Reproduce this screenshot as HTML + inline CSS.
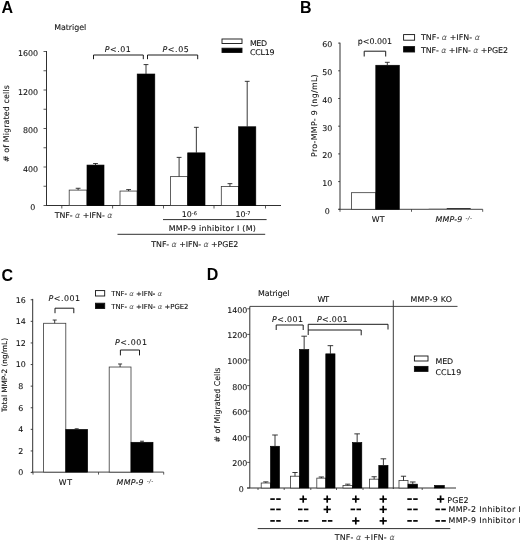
<!DOCTYPE html>
<html><head><meta charset="utf-8"><title>Figure</title>
<style>
html,body{margin:0;padding:0;background:#fff;}
svg{display:block;will-change:transform;opacity:0.999;}
text{font-family:"DejaVu Sans","Liberation Sans",sans-serif;font-size:7.9px;fill:#111;stroke:#111;stroke-width:0.1px;}
.pl{font-family:"Liberation Sans",sans-serif;font-size:16px;font-weight:bold;fill:#000;stroke:none;}
.it{font-style:italic;}
.al{font-style:italic;fill:#555;stroke:none;}
.sup{font-style:italic;font-size:5.6px;fill:#333;stroke:none;}
.br{fill:none;stroke:#1a1a1a;stroke-width:1;}
</style>
</head><body>
<svg width="520" height="543" viewBox="0 0 520 543">
<rect x="0" y="0" width="520" height="543" fill="#ffffff" stroke="none"/>
<text x="1.5" y="12.6" class="pl">A</text>
<text x="54.2" y="30.3" textLength="32" lengthAdjust="spacing">Matrigel</text>
<line x1="46.50" y1="51.00" x2="46.50" y2="205.50" stroke="#303030" stroke-width="1.0"/>
<line x1="46.00" y1="205.50" x2="281.00" y2="205.50" stroke="#303030" stroke-width="1.0"/>
<line x1="43.50" y1="205.50" x2="46.50" y2="205.50" stroke="#303030" stroke-width="0.8"/>
<line x1="43.50" y1="186.25" x2="46.50" y2="186.25" stroke="#303030" stroke-width="0.8"/>
<line x1="43.50" y1="167.00" x2="46.50" y2="167.00" stroke="#303030" stroke-width="0.8"/>
<line x1="43.50" y1="147.75" x2="46.50" y2="147.75" stroke="#303030" stroke-width="0.8"/>
<line x1="43.50" y1="128.50" x2="46.50" y2="128.50" stroke="#303030" stroke-width="0.8"/>
<line x1="43.50" y1="109.25" x2="46.50" y2="109.25" stroke="#303030" stroke-width="0.8"/>
<line x1="43.50" y1="90.00" x2="46.50" y2="90.00" stroke="#303030" stroke-width="0.8"/>
<line x1="43.50" y1="70.75" x2="46.50" y2="70.75" stroke="#303030" stroke-width="0.8"/>
<line x1="43.50" y1="51.50" x2="46.50" y2="51.50" stroke="#303030" stroke-width="0.8"/>
<text x="38" y="171.6" text-anchor="end">400</text>
<text x="38" y="133.1" text-anchor="end">800</text>
<text x="38" y="94.6" text-anchor="end">1200</text>
<text x="38" y="56.1" text-anchor="end">1600</text>
<text x="35.4" y="209.9" text-anchor="end">0</text>
<line x1="61.80" y1="205.50" x2="61.80" y2="208.50" stroke="#303030" stroke-width="0.8"/>
<line x1="112.60" y1="205.50" x2="112.60" y2="208.50" stroke="#303030" stroke-width="0.8"/>
<line x1="163.50" y1="205.50" x2="163.50" y2="208.50" stroke="#303030" stroke-width="0.8"/>
<line x1="214.00" y1="205.50" x2="214.00" y2="208.50" stroke="#303030" stroke-width="0.8"/>
<line x1="265.50" y1="205.50" x2="265.50" y2="208.50" stroke="#303030" stroke-width="0.8"/>
<text x="8.8" y="162" transform="rotate(-90 8.8 162)" textLength="76.8" lengthAdjust="spacing"># of  Migrated cells</text>
<rect x="69.20" y="190.10" width="17.80" height="15.40" fill="#fff" stroke="#3a3a3a" stroke-width="0.8"/>
<rect x="87.00" y="165.07" width="17.00" height="40.43" fill="#000" stroke="#000" stroke-width="0.65"/>
<line x1="78.10" y1="190.10" x2="78.10" y2="188.27" stroke="#222" stroke-width="0.9"/>
<line x1="75.70" y1="188.27" x2="80.50" y2="188.27" stroke="#222" stroke-width="0.9"/>
<line x1="95.50" y1="165.07" x2="95.50" y2="163.53" stroke="#222" stroke-width="0.9"/>
<line x1="93.10" y1="163.53" x2="97.90" y2="163.53" stroke="#222" stroke-width="0.9"/>
<rect x="120.00" y="191.06" width="17.20" height="14.44" fill="#fff" stroke="#3a3a3a" stroke-width="0.8"/>
<rect x="137.20" y="74.02" width="17.60" height="131.48" fill="#000" stroke="#000" stroke-width="0.65"/>
<line x1="128.60" y1="191.06" x2="128.60" y2="189.62" stroke="#222" stroke-width="0.9"/>
<line x1="126.20" y1="189.62" x2="131.00" y2="189.62" stroke="#222" stroke-width="0.9"/>
<line x1="146.00" y1="74.02" x2="146.00" y2="64.59" stroke="#222" stroke-width="0.9"/>
<line x1="143.60" y1="64.59" x2="148.40" y2="64.59" stroke="#222" stroke-width="0.9"/>
<rect x="170.50" y="176.62" width="17.20" height="28.88" fill="#fff" stroke="#3a3a3a" stroke-width="0.8"/>
<rect x="187.70" y="152.85" width="17.30" height="52.65" fill="#000" stroke="#000" stroke-width="0.65"/>
<line x1="179.10" y1="176.62" x2="179.10" y2="157.38" stroke="#222" stroke-width="0.9"/>
<line x1="176.70" y1="157.38" x2="181.50" y2="157.38" stroke="#222" stroke-width="0.9"/>
<line x1="196.35" y1="152.85" x2="196.35" y2="127.34" stroke="#222" stroke-width="0.9"/>
<line x1="193.95" y1="127.34" x2="198.75" y2="127.34" stroke="#222" stroke-width="0.9"/>
<rect x="221.30" y="186.54" width="17.30" height="18.96" fill="#fff" stroke="#3a3a3a" stroke-width="0.8"/>
<rect x="238.60" y="126.77" width="17.20" height="78.73" fill="#000" stroke="#000" stroke-width="0.65"/>
<line x1="229.95" y1="186.54" x2="229.95" y2="183.65" stroke="#222" stroke-width="0.9"/>
<line x1="227.55" y1="183.65" x2="232.35" y2="183.65" stroke="#222" stroke-width="0.9"/>
<line x1="247.20" y1="126.77" x2="247.20" y2="81.34" stroke="#222" stroke-width="0.9"/>
<line x1="244.80" y1="81.34" x2="249.60" y2="81.34" stroke="#222" stroke-width="0.9"/>
<path d="M93.5 59.2 L93.5 55 L143.3 55 L143.3 59.2" class="br"/>
<path d="M147.5 59.2 L147.5 55 L197.7 55 L197.7 59.2" class="br"/>
<text x="104.8" y="52" textLength="26" lengthAdjust="spacing"><tspan class="it">P</tspan>&lt;.01</text>
<text x="162.5" y="52" textLength="26.3" lengthAdjust="spacing"><tspan class="it">P</tspan>&lt;.05</text>
<rect x="222.00" y="39.00" width="20.00" height="4.50" fill="#fff" stroke="#111" stroke-width="0.9"/>
<rect x="222.00" y="48.20" width="20.00" height="4.30" fill="#000" stroke="#111" stroke-width="0.9"/>
<text x="250" y="46" textLength="17" lengthAdjust="spacing">MED</text>
<text x="250" y="55" textLength="24.6" lengthAdjust="spacing">CCL19</text>
<text x="54.7" y="218" textLength="57.7" lengthAdjust="spacing">TNF- <tspan class="al">α</tspan> +IFN- <tspan class="al">α</tspan></text>
<text x="181.8" y="217">10<tspan style="font-size:5px" dy="-2.5">-6</tspan></text>
<text x="235.4" y="217">10<tspan style="font-size:5px" dy="-2.5">-7</tspan></text>
<line x1="163.00" y1="219.60" x2="266.60" y2="219.60" stroke="#303030" stroke-width="1.0"/>
<text x="168.8" y="231" textLength="87" lengthAdjust="spacing">MMP-9 inhibitor I (M)</text>
<line x1="117.50" y1="234.30" x2="265.20" y2="234.30" stroke="#303030" stroke-width="1.0"/>
<text x="151.3" y="247" textLength="87" lengthAdjust="spacing">TNF- <tspan class="al">α</tspan> +IFN- <tspan class="al">α</tspan> +PGE2</text>
<text x="300" y="13.4" class="pl">B</text>
<line x1="340.00" y1="42.70" x2="340.00" y2="209.30" stroke="#303030" stroke-width="1.0"/>
<line x1="338.50" y1="209.30" x2="482.70" y2="209.30" stroke="#303030" stroke-width="0.9"/>
<line x1="338.20" y1="209.30" x2="340.00" y2="209.30" stroke="#303030" stroke-width="0.9"/>
<line x1="338.20" y1="181.60" x2="340.00" y2="181.60" stroke="#303030" stroke-width="0.9"/>
<line x1="338.20" y1="153.90" x2="340.00" y2="153.90" stroke="#303030" stroke-width="0.9"/>
<line x1="338.20" y1="126.20" x2="340.00" y2="126.20" stroke="#303030" stroke-width="0.9"/>
<line x1="338.20" y1="98.50" x2="340.00" y2="98.50" stroke="#303030" stroke-width="0.9"/>
<line x1="338.20" y1="70.80" x2="340.00" y2="70.80" stroke="#303030" stroke-width="0.9"/>
<line x1="338.20" y1="43.10" x2="340.00" y2="43.10" stroke="#303030" stroke-width="0.9"/>
<text x="327.3" y="213.6" text-anchor="middle">0</text>
<text x="327.3" y="185.9" text-anchor="middle">10</text>
<text x="327.3" y="158.2" text-anchor="middle">20</text>
<text x="327.3" y="130.5" text-anchor="middle">30</text>
<text x="327.3" y="102.8" text-anchor="middle">40</text>
<text x="327.3" y="75.1" text-anchor="middle">50</text>
<text x="327.3" y="47.4" text-anchor="middle">60</text>
<line x1="340.00" y1="209.30" x2="340.00" y2="211.80" stroke="#303030" stroke-width="0.8"/>
<line x1="411.50" y1="209.30" x2="411.50" y2="211.80" stroke="#303030" stroke-width="0.8"/>
<line x1="482.70" y1="209.30" x2="482.70" y2="211.80" stroke="#303030" stroke-width="0.8"/>
<text x="317" y="157" transform="rotate(-90 317 157)" textLength="82.7" lengthAdjust="spacing">Pro-MMP- 9 (ng/mL)</text>
<rect x="351.50" y="192.68" width="24.30" height="16.62" fill="#fff" stroke="#3a3a3a" stroke-width="0.8"/>
<rect x="375.80" y="65.26" width="23.50" height="144.04" fill="#000" stroke="#000" stroke-width="0.65"/>
<line x1="387.30" y1="65.26" x2="387.30" y2="62.30" stroke="#222" stroke-width="0.9"/>
<line x1="384.90" y1="62.30" x2="389.70" y2="62.30" stroke="#222" stroke-width="0.9"/>
<line x1="428.70" y1="208.70" x2="446.70" y2="208.70" stroke="#999" stroke-width="0.6"/>
<line x1="446.70" y1="208.50" x2="470.70" y2="208.50" stroke="#222" stroke-width="0.9"/>
<path d="M364.2 56.5 L364.2 51.2 L385.7 51.2 L385.7 56.5" class="br"/>
<text x="357.8" y="44.3" textLength="34.2" lengthAdjust="spacing">p&lt;0.001</text>
<rect x="403.60" y="34.60" width="11.00" height="5.60" fill="#fff" stroke="#111" stroke-width="0.9"/>
<rect x="403.60" y="46.60" width="11.00" height="5.40" fill="#000" stroke="#111" stroke-width="0.9"/>
<text x="421" y="40.4" textLength="58.9" lengthAdjust="spacing">TNF- <tspan class="al">α</tspan> +IFN- <tspan class="al">α</tspan></text>
<text x="421" y="52.9" textLength="87" lengthAdjust="spacing">TNF- <tspan class="al">α</tspan> +IFN- <tspan class="al">α</tspan> +PGE2</text>
<text x="371.8" y="221.5" textLength="12.7" lengthAdjust="spacing">WT</text>
<text x="435.4" y="222" textLength="36.6" lengthAdjust="spacing"><tspan class="it">MMP-9</tspan> <tspan class="sup" dy="-2">-/-</tspan></text>
<text x="1.5" y="280.9" class="pl">C</text>
<line x1="32.70" y1="298.90" x2="32.70" y2="472.10" stroke="#303030" stroke-width="1.0"/>
<line x1="31.50" y1="472.10" x2="163.70" y2="472.10" stroke="#303030" stroke-width="0.9"/>
<line x1="30.70" y1="472.55" x2="32.70" y2="472.55" stroke="#303030" stroke-width="0.9"/>
<line x1="30.70" y1="450.95" x2="32.70" y2="450.95" stroke="#303030" stroke-width="0.9"/>
<line x1="30.70" y1="429.35" x2="32.70" y2="429.35" stroke="#303030" stroke-width="0.9"/>
<line x1="30.70" y1="407.75" x2="32.70" y2="407.75" stroke="#303030" stroke-width="0.9"/>
<line x1="30.70" y1="386.15" x2="32.70" y2="386.15" stroke="#303030" stroke-width="0.9"/>
<line x1="30.70" y1="364.55" x2="32.70" y2="364.55" stroke="#303030" stroke-width="0.9"/>
<line x1="30.70" y1="342.95" x2="32.70" y2="342.95" stroke="#303030" stroke-width="0.9"/>
<line x1="30.70" y1="321.35" x2="32.70" y2="321.35" stroke="#303030" stroke-width="0.9"/>
<line x1="30.70" y1="299.75" x2="32.70" y2="299.75" stroke="#303030" stroke-width="0.9"/>
<text x="20.7" y="475.4" text-anchor="middle">0</text>
<text x="20.7" y="453.8" text-anchor="middle">2</text>
<text x="20.7" y="432.2" text-anchor="middle">4</text>
<text x="20.7" y="410.6" text-anchor="middle">6</text>
<text x="20.7" y="389.0" text-anchor="middle">8</text>
<text x="20.7" y="367.4" text-anchor="middle">10</text>
<text x="20.7" y="345.8" text-anchor="middle">12</text>
<text x="20.7" y="324.2" text-anchor="middle">14</text>
<text x="20.7" y="302.6" text-anchor="middle">16</text>
<line x1="33.00" y1="472.10" x2="33.00" y2="474.60" stroke="#303030" stroke-width="0.8"/>
<line x1="98.50" y1="472.10" x2="98.50" y2="474.60" stroke="#303030" stroke-width="0.8"/>
<line x1="163.70" y1="472.10" x2="163.70" y2="474.60" stroke="#303030" stroke-width="0.8"/>
<text x="7" y="412" style="font-size:7.3px" transform="rotate(-90 7 412)" textLength="74" lengthAdjust="spacing">Total MMP-2 (ng/mL)</text>
<rect x="43.60" y="323.28" width="22.20" height="148.82" fill="#fff" stroke="#3a3a3a" stroke-width="0.8"/>
<rect x="65.80" y="429.44" width="21.80" height="42.66" fill="#000" stroke="#000" stroke-width="0.65"/>
<line x1="54.70" y1="323.28" x2="54.70" y2="320.04" stroke="#222" stroke-width="0.9"/>
<line x1="52.70" y1="320.04" x2="56.70" y2="320.04" stroke="#222" stroke-width="0.9"/>
<line x1="76.70" y1="429.44" x2="76.70" y2="428.79" stroke="#222" stroke-width="0.9"/>
<line x1="74.70" y1="428.79" x2="78.70" y2="428.79" stroke="#222" stroke-width="0.9"/>
<rect x="109.20" y="367.02" width="21.80" height="105.08" fill="#fff" stroke="#3a3a3a" stroke-width="0.8"/>
<rect x="131.00" y="442.29" width="22.00" height="29.81" fill="#000" stroke="#000" stroke-width="0.65"/>
<line x1="120.10" y1="367.02" x2="120.10" y2="363.99" stroke="#222" stroke-width="0.9"/>
<line x1="118.10" y1="363.99" x2="122.10" y2="363.99" stroke="#222" stroke-width="0.9"/>
<line x1="142.00" y1="442.29" x2="142.00" y2="441.21" stroke="#222" stroke-width="0.9"/>
<line x1="140.00" y1="441.21" x2="144.00" y2="441.21" stroke="#222" stroke-width="0.9"/>
<path d="M55 313.2 L55 308.2 L73.8 308.2 L73.8 313.2" class="br"/>
<path d="M120.4 355.4 L120.4 350 L139.5 350 L139.5 355.4" class="br"/>
<text x="48.5" y="301.2" textLength="31.5" lengthAdjust="spacing"><tspan class="it">P</tspan>&lt;.001</text>
<text x="115" y="344.5" textLength="32" lengthAdjust="spacing"><tspan class="it">P</tspan>&lt;.001</text>
<rect x="95.50" y="290.60" width="9.20" height="5.40" fill="#fff" stroke="#111" stroke-width="0.9"/>
<rect x="95.50" y="303.20" width="9.20" height="5.30" fill="#000" stroke="#111" stroke-width="0.9"/>
<text x="111.2" y="296" style="font-size:6.9px" textLength="50.8" lengthAdjust="spacing">TNF- <tspan class="al">α</tspan> +IFN- <tspan class="al">α</tspan></text>
<text x="111.2" y="308.8" style="font-size:6.9px" textLength="77.3" lengthAdjust="spacing">TNF- <tspan class="al">α</tspan> +IFN- <tspan class="al">α</tspan> +PGE2</text>
<text x="58.8" y="484.9" textLength="13.2" lengthAdjust="spacing">WT</text>
<text x="116.6" y="484.9" textLength="36.7" lengthAdjust="spacing"><tspan class="it">MMP-9</tspan> <tspan class="sup" dy="-2">-/-</tspan></text>
<text x="206.7" y="280.4" class="pl">D</text>
<text x="258" y="296.2" textLength="31.5" lengthAdjust="spacing">Matrigel</text>
<text x="317.5" y="301.5" textLength="11.5" lengthAdjust="spacing">WT</text>
<text x="410.5" y="301.5" textLength="41.5" lengthAdjust="spacing">MMP-9 KO</text>
<line x1="249.80" y1="306.40" x2="457.50" y2="306.40" stroke="#303030" stroke-width="0.9"/>
<line x1="393.30" y1="300.30" x2="393.30" y2="489.00" stroke="#303030" stroke-width="0.95"/>
<line x1="249.80" y1="306.50" x2="249.80" y2="488.00" stroke="#303030" stroke-width="1.0"/>
<line x1="247.00" y1="488.00" x2="456.00" y2="488.00" stroke="#303030" stroke-width="1.0"/>
<line x1="247.20" y1="488.00" x2="249.80" y2="488.00" stroke="#303030" stroke-width="0.8"/>
<line x1="247.20" y1="462.40" x2="249.80" y2="462.40" stroke="#303030" stroke-width="0.8"/>
<line x1="247.20" y1="436.80" x2="249.80" y2="436.80" stroke="#303030" stroke-width="0.8"/>
<line x1="247.20" y1="411.20" x2="249.80" y2="411.20" stroke="#303030" stroke-width="0.8"/>
<line x1="247.20" y1="385.60" x2="249.80" y2="385.60" stroke="#303030" stroke-width="0.8"/>
<line x1="247.20" y1="360.00" x2="249.80" y2="360.00" stroke="#303030" stroke-width="0.8"/>
<line x1="247.20" y1="334.40" x2="249.80" y2="334.40" stroke="#303030" stroke-width="0.8"/>
<line x1="247.20" y1="308.80" x2="249.80" y2="308.80" stroke="#303030" stroke-width="0.8"/>
<text x="247.4" y="466.3" text-anchor="end">200</text>
<text x="247.4" y="440.7" text-anchor="end">400</text>
<text x="247.4" y="415.1" text-anchor="end">600</text>
<text x="247.4" y="389.5" text-anchor="end">800</text>
<text x="247.4" y="363.9" text-anchor="end">1000</text>
<text x="247.4" y="338.3" text-anchor="end">1200</text>
<text x="247.4" y="312.7" text-anchor="end">1400</text>
<text x="243.8" y="491.9" text-anchor="end">0</text>
<line x1="258.00" y1="488.00" x2="258.00" y2="490.00" stroke="#303030" stroke-width="0.8"/>
<line x1="284.20" y1="488.00" x2="284.20" y2="490.00" stroke="#303030" stroke-width="0.8"/>
<line x1="310.80" y1="488.00" x2="310.80" y2="490.00" stroke="#303030" stroke-width="0.8"/>
<line x1="336.50" y1="488.00" x2="336.50" y2="490.00" stroke="#303030" stroke-width="0.8"/>
<line x1="363.00" y1="488.00" x2="363.00" y2="490.00" stroke="#303030" stroke-width="0.8"/>
<line x1="422.20" y1="488.00" x2="422.20" y2="490.00" stroke="#303030" stroke-width="0.8"/>
<text x="219.5" y="442.5" transform="rotate(-90 219.5 442.5)" textLength="75" lengthAdjust="spacing"># of Migrated Cells</text>
<rect x="261.20" y="483.01" width="9.30" height="4.99" fill="#fff" stroke="#3a3a3a" stroke-width="0.8"/>
<rect x="270.50" y="446.27" width="9.00" height="41.73" fill="#000" stroke="#000" stroke-width="0.65"/>
<line x1="265.85" y1="483.01" x2="265.85" y2="481.86" stroke="#222" stroke-width="0.9"/>
<line x1="263.25" y1="481.86" x2="268.45" y2="481.86" stroke="#222" stroke-width="0.9"/>
<line x1="275.00" y1="446.27" x2="275.00" y2="435.01" stroke="#222" stroke-width="0.9"/>
<line x1="272.20" y1="435.01" x2="277.80" y2="435.01" stroke="#222" stroke-width="0.9"/>
<rect x="290.50" y="476.22" width="9.00" height="11.78" fill="#fff" stroke="#3a3a3a" stroke-width="0.8"/>
<rect x="299.50" y="349.50" width="9.30" height="138.50" fill="#000" stroke="#000" stroke-width="0.65"/>
<line x1="295.00" y1="476.22" x2="295.00" y2="472.51" stroke="#222" stroke-width="0.9"/>
<line x1="292.40" y1="472.51" x2="297.60" y2="472.51" stroke="#222" stroke-width="0.9"/>
<line x1="304.15" y1="349.50" x2="304.15" y2="336.19" stroke="#222" stroke-width="0.9"/>
<line x1="301.35" y1="336.19" x2="306.95" y2="336.19" stroke="#222" stroke-width="0.9"/>
<rect x="316.80" y="478.14" width="9.00" height="9.86" fill="#fff" stroke="#3a3a3a" stroke-width="0.8"/>
<rect x="325.80" y="353.86" width="9.20" height="134.14" fill="#000" stroke="#000" stroke-width="0.65"/>
<line x1="321.30" y1="478.14" x2="321.30" y2="476.99" stroke="#222" stroke-width="0.9"/>
<line x1="318.70" y1="476.99" x2="323.90" y2="476.99" stroke="#222" stroke-width="0.9"/>
<line x1="330.40" y1="353.86" x2="330.40" y2="345.66" stroke="#222" stroke-width="0.9"/>
<line x1="327.60" y1="345.66" x2="333.20" y2="345.66" stroke="#222" stroke-width="0.9"/>
<rect x="343.00" y="485.44" width="9.50" height="2.56" fill="#fff" stroke="#3a3a3a" stroke-width="0.8"/>
<rect x="352.50" y="442.56" width="9.30" height="45.44" fill="#000" stroke="#000" stroke-width="0.65"/>
<line x1="347.75" y1="485.44" x2="347.75" y2="484.16" stroke="#222" stroke-width="0.9"/>
<line x1="345.15" y1="484.16" x2="350.35" y2="484.16" stroke="#222" stroke-width="0.9"/>
<line x1="357.15" y1="442.56" x2="357.15" y2="433.86" stroke="#222" stroke-width="0.9"/>
<line x1="354.35" y1="433.86" x2="359.95" y2="433.86" stroke="#222" stroke-width="0.9"/>
<rect x="369.50" y="479.17" width="9.30" height="8.83" fill="#fff" stroke="#3a3a3a" stroke-width="0.8"/>
<rect x="378.80" y="465.47" width="9.20" height="22.53" fill="#000" stroke="#000" stroke-width="0.65"/>
<line x1="374.15" y1="479.17" x2="374.15" y2="476.74" stroke="#222" stroke-width="0.9"/>
<line x1="371.55" y1="476.74" x2="376.75" y2="476.74" stroke="#222" stroke-width="0.9"/>
<line x1="383.40" y1="465.47" x2="383.40" y2="458.82" stroke="#222" stroke-width="0.9"/>
<line x1="380.60" y1="458.82" x2="386.20" y2="458.82" stroke="#222" stroke-width="0.9"/>
<rect x="399.00" y="480.58" width="9.00" height="7.42" fill="#fff" stroke="#3a3a3a" stroke-width="0.8"/>
<rect x="408.00" y="484.16" width="9.50" height="3.84" fill="#000" stroke="#000" stroke-width="0.65"/>
<line x1="403.50" y1="480.58" x2="403.50" y2="476.22" stroke="#222" stroke-width="0.9"/>
<line x1="400.90" y1="476.22" x2="406.10" y2="476.22" stroke="#222" stroke-width="0.9"/>
<line x1="412.75" y1="484.16" x2="412.75" y2="481.98" stroke="#222" stroke-width="0.9"/>
<line x1="409.95" y1="481.98" x2="415.55" y2="481.98" stroke="#222" stroke-width="0.9"/>
<rect x="434.60" y="485.44" width="9.70" height="2.56" fill="#000" stroke="#000" stroke-width="0.65"/>
<path d="M276.2 330 L276.2 325 L303.2 325 L303.2 330" class="br"/>
<path d="M308.2 335 L308.2 324.3 L388 324.3 L388 329.5 M308.2 330 L361.2 330 L361.2 335.3" class="br"/>
<text x="272" y="322" textLength="31" lengthAdjust="spacing"><tspan class="it">P</tspan>&lt;.001</text>
<text x="317" y="322" textLength="30.5" lengthAdjust="spacing"><tspan class="it">P</tspan>&lt;.001</text>
<rect x="414.40" y="356.00" width="13.60" height="5.00" fill="#fff" stroke="#111" stroke-width="0.9"/>
<rect x="414.40" y="366.40" width="13.60" height="5.00" fill="#000" stroke="#111" stroke-width="0.9"/>
<text x="435.5" y="363.8" textLength="17.7" lengthAdjust="spacing">MED</text>
<text x="435.5" y="374.5" textLength="25.7" lengthAdjust="spacing">CCL19</text>
<line x1="270.30" y1="499.10" x2="274.80" y2="499.10" stroke="#000" stroke-width="1.7"/>
<line x1="276.20" y1="499.10" x2="280.70" y2="499.10" stroke="#000" stroke-width="1.7"/>
<line x1="299.60" y1="499.10" x2="306.80" y2="499.10" stroke="#000" stroke-width="1.7"/>
<line x1="303.20" y1="495.50" x2="303.20" y2="502.70" stroke="#000" stroke-width="1.7"/>
<line x1="323.60" y1="499.10" x2="330.80" y2="499.10" stroke="#000" stroke-width="1.7"/>
<line x1="327.20" y1="495.50" x2="327.20" y2="502.70" stroke="#000" stroke-width="1.7"/>
<line x1="352.20" y1="499.10" x2="359.40" y2="499.10" stroke="#000" stroke-width="1.7"/>
<line x1="355.80" y1="495.50" x2="355.80" y2="502.70" stroke="#000" stroke-width="1.7"/>
<line x1="379.60" y1="499.10" x2="386.80" y2="499.10" stroke="#000" stroke-width="1.7"/>
<line x1="383.20" y1="495.50" x2="383.20" y2="502.70" stroke="#000" stroke-width="1.7"/>
<line x1="407.30" y1="499.10" x2="411.80" y2="499.10" stroke="#000" stroke-width="1.7"/>
<line x1="413.20" y1="499.10" x2="417.70" y2="499.10" stroke="#000" stroke-width="1.7"/>
<line x1="437.00" y1="499.10" x2="444.20" y2="499.10" stroke="#000" stroke-width="1.7"/>
<line x1="440.60" y1="495.50" x2="440.60" y2="502.70" stroke="#000" stroke-width="1.7"/>
<line x1="270.30" y1="509.40" x2="274.80" y2="509.40" stroke="#000" stroke-width="1.7"/>
<line x1="276.20" y1="509.40" x2="280.70" y2="509.40" stroke="#000" stroke-width="1.7"/>
<line x1="298.00" y1="509.40" x2="302.50" y2="509.40" stroke="#000" stroke-width="1.7"/>
<line x1="303.90" y1="509.40" x2="308.40" y2="509.40" stroke="#000" stroke-width="1.7"/>
<line x1="323.60" y1="509.40" x2="330.80" y2="509.40" stroke="#000" stroke-width="1.7"/>
<line x1="327.20" y1="505.80" x2="327.20" y2="513.00" stroke="#000" stroke-width="1.7"/>
<line x1="350.60" y1="509.40" x2="355.10" y2="509.40" stroke="#000" stroke-width="1.7"/>
<line x1="356.50" y1="509.40" x2="361.00" y2="509.40" stroke="#000" stroke-width="1.7"/>
<line x1="379.60" y1="509.40" x2="386.80" y2="509.40" stroke="#000" stroke-width="1.7"/>
<line x1="383.20" y1="505.80" x2="383.20" y2="513.00" stroke="#000" stroke-width="1.7"/>
<line x1="407.30" y1="509.40" x2="411.80" y2="509.40" stroke="#000" stroke-width="1.7"/>
<line x1="413.20" y1="509.40" x2="417.70" y2="509.40" stroke="#000" stroke-width="1.7"/>
<line x1="435.40" y1="509.40" x2="439.90" y2="509.40" stroke="#000" stroke-width="1.7"/>
<line x1="441.30" y1="509.40" x2="445.80" y2="509.40" stroke="#000" stroke-width="1.7"/>
<line x1="270.30" y1="520.90" x2="274.80" y2="520.90" stroke="#000" stroke-width="1.7"/>
<line x1="276.20" y1="520.90" x2="280.70" y2="520.90" stroke="#000" stroke-width="1.7"/>
<line x1="298.00" y1="520.90" x2="302.50" y2="520.90" stroke="#000" stroke-width="1.7"/>
<line x1="303.90" y1="520.90" x2="308.40" y2="520.90" stroke="#000" stroke-width="1.7"/>
<line x1="322.00" y1="520.90" x2="326.50" y2="520.90" stroke="#000" stroke-width="1.7"/>
<line x1="327.90" y1="520.90" x2="332.40" y2="520.90" stroke="#000" stroke-width="1.7"/>
<line x1="352.20" y1="520.90" x2="359.40" y2="520.90" stroke="#000" stroke-width="1.7"/>
<line x1="355.80" y1="517.30" x2="355.80" y2="524.50" stroke="#000" stroke-width="1.7"/>
<line x1="379.60" y1="520.90" x2="386.80" y2="520.90" stroke="#000" stroke-width="1.7"/>
<line x1="383.20" y1="517.30" x2="383.20" y2="524.50" stroke="#000" stroke-width="1.7"/>
<line x1="407.30" y1="520.90" x2="411.80" y2="520.90" stroke="#000" stroke-width="1.7"/>
<line x1="413.20" y1="520.90" x2="417.70" y2="520.90" stroke="#000" stroke-width="1.7"/>
<line x1="435.40" y1="520.90" x2="439.90" y2="520.90" stroke="#000" stroke-width="1.7"/>
<line x1="441.30" y1="520.90" x2="445.80" y2="520.90" stroke="#000" stroke-width="1.7"/>
<text x="447.3" y="502.6" textLength="21.2" lengthAdjust="spacing">PGE2</text>
<text x="448.5" y="511.9" textLength="72.3" lengthAdjust="spacing">MMP-2 Inhibitor I</text>
<text x="448.5" y="522.7" textLength="72.3" lengthAdjust="spacing">MMP-9 Inhibitor I</text>
<line x1="257.70" y1="528.60" x2="450.30" y2="528.60" stroke="#303030" stroke-width="1.0"/>
<text x="334.8" y="539.7" textLength="59.8" lengthAdjust="spacing">TNF- <tspan class="al">α</tspan> +IFN-  <tspan class="al">α</tspan></text>
</svg>
</body></html>
